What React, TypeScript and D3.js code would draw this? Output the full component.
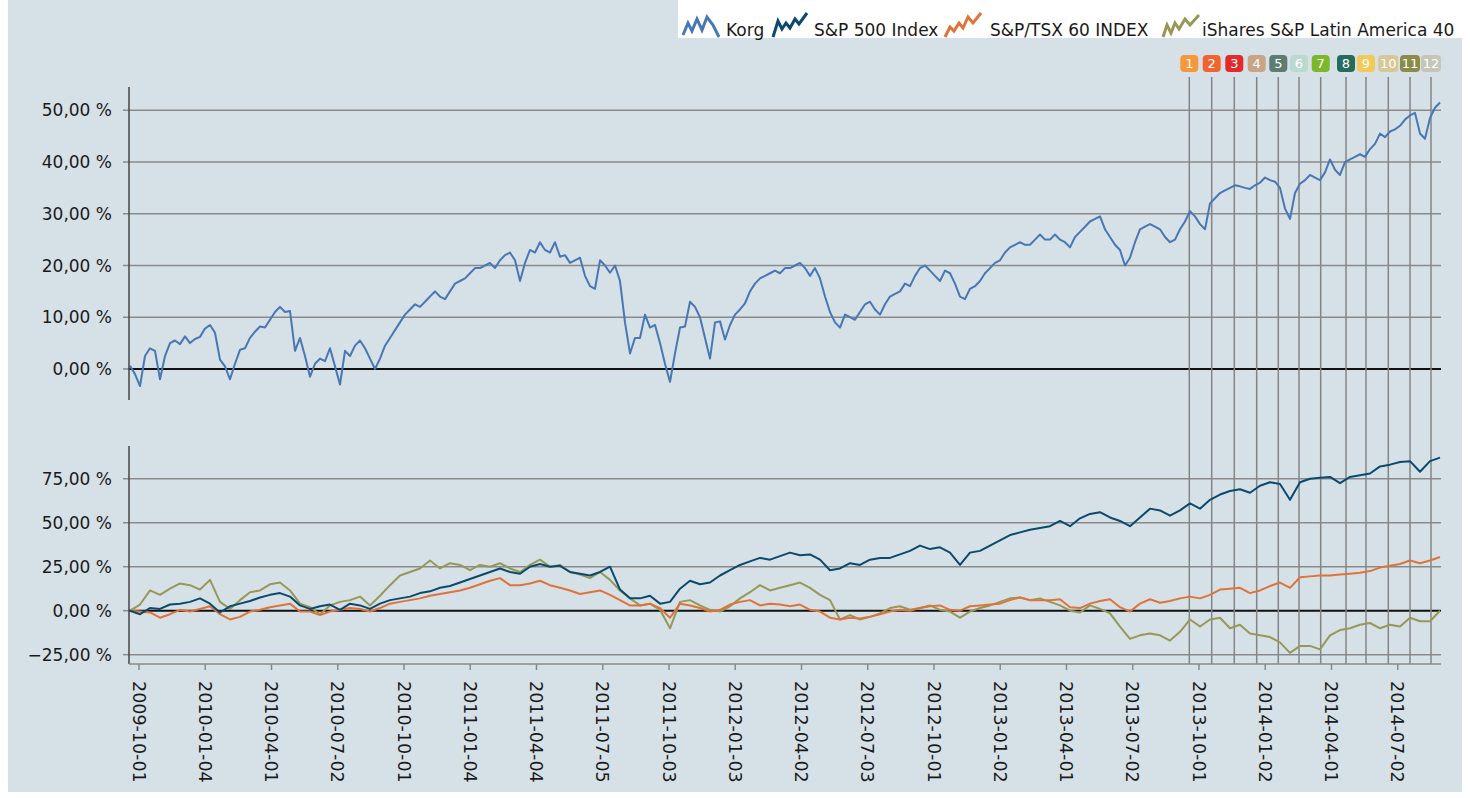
import React from "react";
import * as d3 from "d3";

// ---- data ----
// Korg: sampled weekly (1 unit per sample); index units are ~1 trading week.
const KORG = [
  0.6, -1.0, -3.3, 2.5, 4.0, 3.5, -2.0, 2.5, 5.0, 5.5,
  4.8, 6.3, 5.0, 5.8, 6.2, 7.8, 8.5, 7.0, 1.8, 0.5,
  -2.0, 1.0, 3.7, 4.0, 6.0, 7.2, 8.2, 8.0, 9.5, 11.0,
  12.0, 11.0, 11.2, 3.5, 6.0, 2.5, -1.5, 1.0, 2.0, 1.5,
  4.0, 0.5, -3.0, 3.5, 2.5, 4.5, 5.5, 4.0, 2.0, 0.0,
  2.0, 4.5, 6.0, 7.5, 9.0, 10.5, 11.5, 12.5, 12.0, 13.0,
  14.0, 15.0, 14.0, 13.5, 15.0, 16.5, 17.0, 17.5, 18.5, 19.5,
  19.5, 20.0, 20.5, 19.5, 21.0, 22.0, 22.5, 21.0, 17.0, 20.5,
  23.0, 22.5, 24.5, 23.0, 22.5, 24.5, 21.7, 22.0, 20.5, 21.0,
  21.5, 18.0, 16.0, 15.5, 21.0, 20.0, 18.6, 20.0, 17.0, 9.0,
  3.0, 6.0, 6.0, 10.5, 8.0, 8.5, 5.0, 1.0, -2.5, 3.0,
  8.0, 8.2, 13.0, 12.0, 10.0, 6.0, 2.0, 9.0, 9.2, 5.7,
  8.5, 10.5, 11.5, 12.7, 15.0, 16.5, 17.5, 18.0, 18.5, 19.0,
  18.5, 19.5, 19.5, 20.0, 20.5, 19.5, 18.0, 19.5, 17.5, 14.0,
  11.0, 9.0, 8.0, 10.5, 10.0, 9.5, 11.0, 12.5, 13.0, 11.5,
  10.5, 12.5, 14.0, 14.5, 15.0, 16.5, 16.0, 18.0, 19.5, 20.0,
  19.0, 18.0, 17.0, 19.0, 18.5, 16.5, 14.0, 13.5, 15.5, 16.0,
  17.0, 18.5, 19.5, 20.5, 21.0, 22.5, 23.5, 24.0, 24.5, 24.0,
  24.0, 25.0, 26.0, 25.0, 25.0, 26.0, 25.0, 24.5, 23.5, 25.5,
  26.5, 27.5, 28.5, 29.0, 29.5, 27.0, 25.5, 24.0, 23.0, 20.0,
  21.5, 24.5, 27.0, 27.5, 28.0, 27.5, 27.0, 25.5, 24.5, 25.0,
  27.0, 28.5, 30.5, 29.5, 28.0, 27.0, 32.0, 33.0, 34.0, 34.5,
  35.0, 35.5, 35.3, 35.0, 34.8, 35.5, 36.0, 37.0, 36.5, 36.2,
  35.0, 31.0, 29.0, 34.0, 35.8, 36.5, 37.5, 37.0, 36.5, 38.0,
  40.5, 38.5, 37.5, 40.0, 40.5, 41.0, 41.5, 41.0, 42.5, 43.5,
  45.5, 44.8, 45.9, 46.3, 47.0, 48.2, 49.0, 49.5, 45.5, 44.5,
  48.5, 50.5, 51.5,
];

// Benchmarks: sampled every two weeks (2 units per sample).
const SP500 = [
  0, -2, 1.5, 1, 3.5, 4, 5, 7, 4, -1,
  2.5, 4, 5.5, 7.5, 9, 10, 8, 3, 1, 2.5,
  3.5, 0.5, 4, 3, 1, 4, 6, 7, 8, 10,
  11, 13, 14, 16, 18, 20, 22, 24, 22, 21,
  25, 26.5, 25, 25.5, 22, 21, 20, 22, 25, 12,
  7, 7, 8.5, 4, 5, 12.5, 17, 15, 16, 20,
  23, 26, 28, 30, 29, 31, 33, 31.5, 32, 29,
  23, 24, 27, 26, 29, 30, 30, 32, 34, 37,
  35, 36, 33, 26, 33, 34, 37, 40, 43, 44.5,
  46, 47, 48, 51, 48, 52.5, 55, 56, 53, 51,
  48, 53, 58, 57, 54, 57, 61, 58, 63, 66,
  68, 69, 67, 71, 73, 72, 63, 73, 75, 75.5,
  76, 72.5, 76, 77, 78, 82, 83, 84.5, 85, 79,
  85, 87,
];

const TSX60 = [
  0, -0.5, -1, -4, -2, 0.5, -0.5, 1, 2.5, -2,
  -5, -3.5, -0.5, 0.5, 2, 3, 4, -0.5, -0.5, -2.5,
  -0.5, 0.5, 1.5, 1, -0.5, 1.5, 4, 5, 6, 7,
  8.5, 9.5, 10.5, 11.5, 13, 15, 17, 18.5, 14.5, 14.5,
  15.5, 17, 14.5, 13, 11.5, 9.5, 10.5, 11.5, 9, 6,
  3, 3, 4, 1.5, -4, 4, 3, 1.5, -0.5, 0.5,
  3.5, 5, 6, 3, 4, 3.5, 2.5, 3.5, 0.5, -0.5,
  -4, -5, -4, -4.5, -3.5, -2, -0.5, 0.5, 0, 1.5,
  2.5, 3, 0.5, 0, 2.5, 3, 3.5, 4, 6, 7.5,
  6, 6, 6, 6.5, 2, 1.5, 4, 5.5, 6.5, 2,
  -0.5, 4, 6.5, 4.5, 5.5, 7, 8, 7, 9, 12,
  12.5, 13, 10, 11.5, 14, 16, 13, 19, 19.5, 20,
  20, 20.5, 21, 21.5, 22.5, 24.5, 25.5, 26.5, 28.5, 27,
  28.5, 30.5,
];

const LATAM40 = [
  0, 3.5, 11.5, 9, 12.5, 15.5, 14.5, 12, 17.5, 5,
  1, 6, 10.5, 11.5, 15, 16, 11.5, 4, 2, -2,
  3, 5, 6, 8, 3, 8.5, 14.5, 20, 22, 24,
  28.5, 24, 27, 26, 23, 26, 25, 27, 24, 22,
  26, 29, 25, 26, 22, 20.5, 18.5, 22, 17.5, 11.5,
  7, 3, 4, 0.5, -10, 5, 6, 3, 0.5, -0.5,
  2.5, 7, 10.5, 14.5, 11.5, 13, 14.5, 16, 13, 9,
  6, -5, -2.5, -5, -3.5, -1.5, 1.5, 2.5, 0.5, 1.5,
  3, 0.5, -0.5, -4, -0.5, 1.5, 3, 5, 7, 7.5,
  6, 7, 5, 3, 0, -1, 3, 1, -1.5, -9,
  -16, -14, -13, -14, -17, -12, -5, -9, -5, -4,
  -10, -8, -13, -14, -15, -18, -24, -20, -20, -22,
  -14, -11, -10, -8, -7, -10, -8, -9, -4, -6,
  -6, 0,
];

const KORG_STEP = 1;
const BENCH_STEP = 2;

const QUARTER_LABELS = [
  "2009-10-01", "2010-01-04", "2010-04-01", "2010-07-02", "2010-10-01",
  "2011-01-04", "2011-04-04", "2011-07-05", "2011-10-03", "2012-01-03",
  "2012-04-02", "2012-07-03", "2012-10-01", "2013-01-02", "2013-04-01",
  "2013-07-02", "2013-10-01", "2014-01-02", "2014-04-01", "2014-07-02",
];
const FIRST_QUARTER_UNIT = 1.8;
const UNITS_PER_QUARTER = 13.25;

const EVENT_LABELS = ["1", "2", "3", "4", "5", "6", "7", "8", "9", "10", "11", "12"];
const EVENT_POS = [211.86, 216.34, 220.86, 225.34, 229.66, 233.8, 238.14, 243.2, 247.2, 251.66, 256, 260.2];
const EVENT_COLORS = [
  "#f7963a", "#f2642f", "#e12a29", "#c9a487", "#5c7d6f", "#bcd9cf",
  "#7cb82c", "#266b5b", "#f1ca58", "#d8c895", "#8b8b4a", "#c6c6b8",
];

const TOP_TICKS = [0, 10, 20, 30, 40, 50];
const BOTTOM_TICKS = [-25, 0, 25, 50, 75];

const SERIES_NAMES = ["Korg", "S&P 500 Index", "S&P/TSX 60 INDEX", "iShares S&P Latin America 40"];
const SERIES_COLORS = ["#4877b3", "#0b4a6c", "#e0733a", "#979858"];

const FONT = "'DejaVu Sans', sans-serif";

export default function App() {
  const lastUnit = (KORG.length - 1) * KORG_STEP;
  const x = d3.scaleLinear().domain([0, lastUnit]).range([130, 1440]);
  const yTop = d3.scaleLinear().domain([-6, 54.5]).range([400, 87]);
  const yBot = d3.scaleLinear().domain([-30.3, 93.6]).range([664, 446]);
  const left = 129;
  const right = 1441;

  const fmt = (v: number) => d3.format(".2f")(v).replace(".", ",") + " %";

  const lineTop = d3.line<number>().x((_, i) => x(i * KORG_STEP)).y((d) => yTop(d));
  const lineBot = d3.line<number>().x((_, i) => x(i * BENCH_STEP)).y((d) => yBot(d));

  const quarterX = QUARTER_LABELS.map((_, i) => x(FIRST_QUARTER_UNIT + i * UNITS_PER_QUARTER));

  const legendX = [683, 773, 945, 1163];
  const textX = [726, 814, 990, 1202];
  const icons = [
    [[0, 22], [5, 10], [9, 18], [14, 6], [19, 17], [24, 4], [30, 12], [36, 24]],
    [[0, 24], [5, 8], [9, 16], [13, 10], [17, 15], [22, 6], [26, 11], [34, 0]],
    [[0, 24], [5, 14], [9, 18], [14, 10], [18, 15], [23, 4], [28, 10], [36, 0]],
    [[0, 24], [4, 12], [8, 20], [12, 10], [16, 16], [22, 6], [27, 12], [36, 2]],
  ];

  return (
    <svg
      width={1470}
      height={798}
      style={{ position: "absolute", left: 0, top: 0, display: "block" }}
      fontFamily={FONT}
    >
      <rect x={0} y={0} width={1470} height={798} fill="#ffffff" />
      <rect x={8} y={0} width={1454} height={792} fill="#d5e1e7" />
      {/* legend box */}
      <rect x={678} y={0} width={784} height={38} fill="#ffffff" />
      {SERIES_NAMES.map((n, i) => (
        <g key={n}>
          <polyline
            points={icons[i].map((p) => `${legendX[i] + p[0]},${13 + p[1]}`).join(" ")}
            fill="none"
            stroke={SERIES_COLORS[i]}
            strokeWidth={3}
            strokeLinejoin="miter"
          />
          <text x={textX[i]} y={36} fontSize={17} fill="#1a1a1a">
            {n}
          </text>
        </g>
      ))}

      {/* top chart grid */}
      {TOP_TICKS.map((t) => (
        <g key={"tt" + t}>
          <line
            x1={left}
            x2={right}
            y1={yTop(t)}
            y2={yTop(t)}
            stroke={t === 0 ? "#111" : "#8a8a8a"}
            strokeWidth={t === 0 ? 2 : 1.5}
          />
          <line x1={left - 6} x2={left} y1={yTop(t)} y2={yTop(t)} stroke="#8a8a8a" strokeWidth={1.5} />
          <text x={112} y={yTop(t)} dy="0.36em" textAnchor="end" fontSize={17} fill="#1a1a1a">
            {fmt(t)}
          </text>
        </g>
      ))}
      {/* bottom chart grid */}
      {BOTTOM_TICKS.map((t) => (
        <g key={"bt" + t}>
          <line
            x1={left}
            x2={right}
            y1={yBot(t)}
            y2={yBot(t)}
            stroke={t === 0 ? "#111" : "#8a8a8a"}
            strokeWidth={t === 0 ? 2 : 1.5}
          />
          <line x1={left - 6} x2={left} y1={yBot(t)} y2={yBot(t)} stroke="#8a8a8a" strokeWidth={1.5} />
          <text x={112} y={yBot(t)} dy="0.36em" textAnchor="end" fontSize={17} fill="#1a1a1a">
            {fmt(t)}
          </text>
        </g>
      ))}

      {/* event lines */}
      {EVENT_POS.map((p, i) => (
        <line key={"ev" + i} x1={x(p)} x2={x(p)} y1={77} y2={664} stroke="#858585" strokeWidth={1.5} />
      ))}

      {/* series */}
      <path d={lineTop(KORG) || ""} fill="none" stroke={SERIES_COLORS[0]} strokeWidth={2} strokeLinejoin="round" />
      <path d={lineBot(LATAM40) || ""} fill="none" stroke={SERIES_COLORS[3]} strokeWidth={2} strokeLinejoin="round" />
      <path d={lineBot(TSX60) || ""} fill="none" stroke={SERIES_COLORS[2]} strokeWidth={2} strokeLinejoin="round" />
      <path d={lineBot(SP500) || ""} fill="none" stroke={SERIES_COLORS[1]} strokeWidth={2} strokeLinejoin="round" />

      {/* axes */}
      <line x1={left} x2={left} y1={87} y2={400} stroke="#444" strokeWidth={1.5} />
      <line x1={left} x2={left} y1={446} y2={664} stroke="#444" strokeWidth={1.5} />
      <line x1={left} x2={right} y1={664} y2={664} stroke="#8a8a8a" strokeWidth={1.5} />
      {quarterX.map((qx, i) => (
        <g key={"q" + i}>
          <line x1={qx} x2={qx} y1={664} y2={670} stroke="#8a8a8a" strokeWidth={1.5} />
          <text
            transform={`translate(${qx},${681}) rotate(90)`}
            dy="0.36em"
            fontSize={17.5}
            fill="#1a1a1a"
          >
            {QUARTER_LABELS[i]}
          </text>
        </g>
      ))}

      {/* event badges */}
      {EVENT_POS.map((p, i) => {
        const w = EVENT_LABELS[i].length > 1 ? 20 : 18;
        return (
          <g key={"b" + i}>
            <rect x={x(p) - w / 2} y={55} width={w} height={17} rx={4} fill={EVENT_COLORS[i]} />
            <text x={x(p)} y={63.5} dy="0.36em" textAnchor="middle" fontSize={13} fill="#ffffff">
              {EVENT_LABELS[i]}
            </text>
          </g>
        );
      })}
    </svg>
  );
}
